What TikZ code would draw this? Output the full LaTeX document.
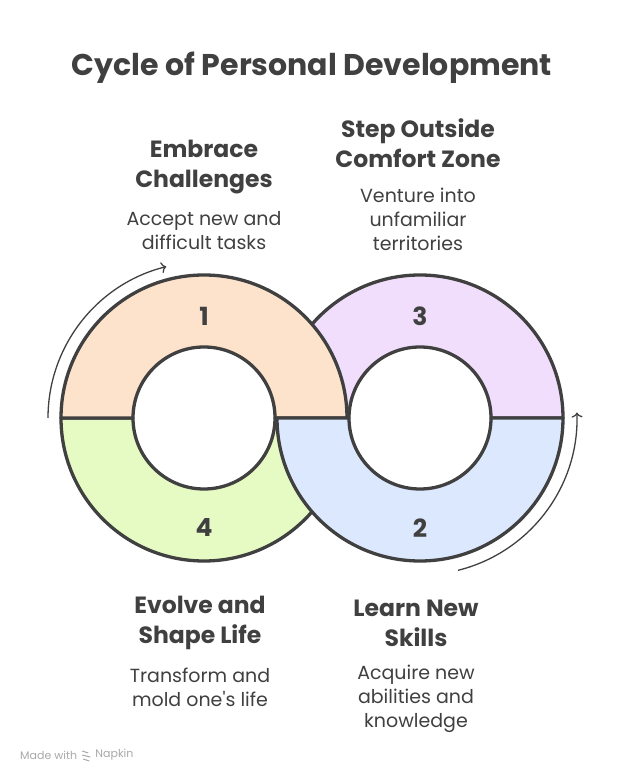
\documentclass[tikz,border=0pt]{standalone}
\usepackage{fontspec}
\setmainfont{Poppins}
\usetikzlibrary{arrows.meta}
\definecolor{ink}{HTML}{404040}
\definecolor{peach}{HTML}{FDE3CC}
\definecolor{lilac}{HTML}{F1DEFC}
\definecolor{sky}{HTML}{DCE8FD}
\definecolor{lime}{HTML}{E6FBC4}
\definecolor{footgray}{HTML}{A8A8A8}
\begin{document}
\begin{tikzpicture}[x=1pt,y=1pt,
  seg/.style={draw=ink,line width=3.3pt,line join=round},
  turn/.style={draw=ink,line width=1.3pt,-{To[length=5pt,width=11pt]}},
  head/.style={text=ink,align=center,font=\fontsize{23.5}{30}\selectfont\bfseries},
  body/.style={text=ink,align=center,font=\fontsize{19}{24}\selectfont},
  num/.style={text=ink,font=\fontsize{25}{25}\selectfont\bfseries},
  foot/.style={text=footgray,font=\fontsize{11}{11}\selectfont,inner sep=0pt}]
\useasboundingbox (0,0) rectangle (624,780);
\coordinate (L) at (204,362);
\coordinate (R) at (420,362);
% ring halves, back to front
\draw[seg,fill=lime] (L) ++(180:143) arc[start angle=180,end angle=360,radius=143]
  -- ++(-72,0) arc[start angle=360,end angle=180,radius=71] -- cycle;
\draw[seg,fill=lilac] (R) ++(0:143) arc[start angle=0,end angle=180,radius=143]
  -- ++(72,0) arc[start angle=180,end angle=0,radius=71] -- cycle;
\draw[seg,fill=peach] (L) ++(0:143) arc[start angle=0,end angle=180,radius=143]
  -- ++(72,0) arc[start angle=180,end angle=0,radius=71] -- cycle;
\draw[seg,fill=sky] (R) ++(180:143) arc[start angle=180,end angle=360,radius=143]
  -- ++(-72,0) arc[start angle=360,end angle=180,radius=71] -- cycle;
% direction arcs
\draw[turn] (L) ++(180:156) arc[start angle=180,end angle=104,radius=156];
\draw[turn] (R) ++(-76:157) arc[start angle=-76,end angle=2,radius=157];
% step numbers
\node[num] (n1) at (204,464) {1};
\node[num] (n3) at (420,464) {3};
\node[num] (n2) at (420,252) {2};
\node[num] (n4) at (204,252) {4};
% title and labels
\node[text=ink,font=\fontsize{30}{30}\selectfont\bfseries] (title) at (312,712) {Cycle of Personal Development};
\node[head] (h1) at (204,613) {Embrace\\Challenges};
\node[body] (b1) at (204,549) {Accept new and\\difficult tasks};
\node[head] (h3) at (418,637) {Step Outside\\Comfort Zone};
\node[body] (b3) at (418,561) {Venture into\\unfamiliar\\territories};
\node[head] (h4) at (200,157) {Evolve and\\Shape Life};
\node[body] (b4) at (200,93) {Transform and\\mold one\textquotesingle s life};
\node[head] (h2) at (416,157) {Learn New\\Skills};
\node[body] (b2) at (416,81) {Acquire new\\abilities and\\knowledge};
% footer
\node[foot,anchor=west] (made) at (20,25) {Made with};
\node[foot,anchor=west] (brand) at ([xshift=18pt]made.east) {Napkin};
\draw[footgray,line width=1pt] ([xshift=5pt,yshift=4pt]made.east) -- ++(6,-2)
  ([xshift=5pt,yshift=0pt]made.east) -- ++(8,-2)
  ([xshift=6pt,yshift=-4pt]made.east) -- ++(6,-2);
\end{tikzpicture}
\end{document}
